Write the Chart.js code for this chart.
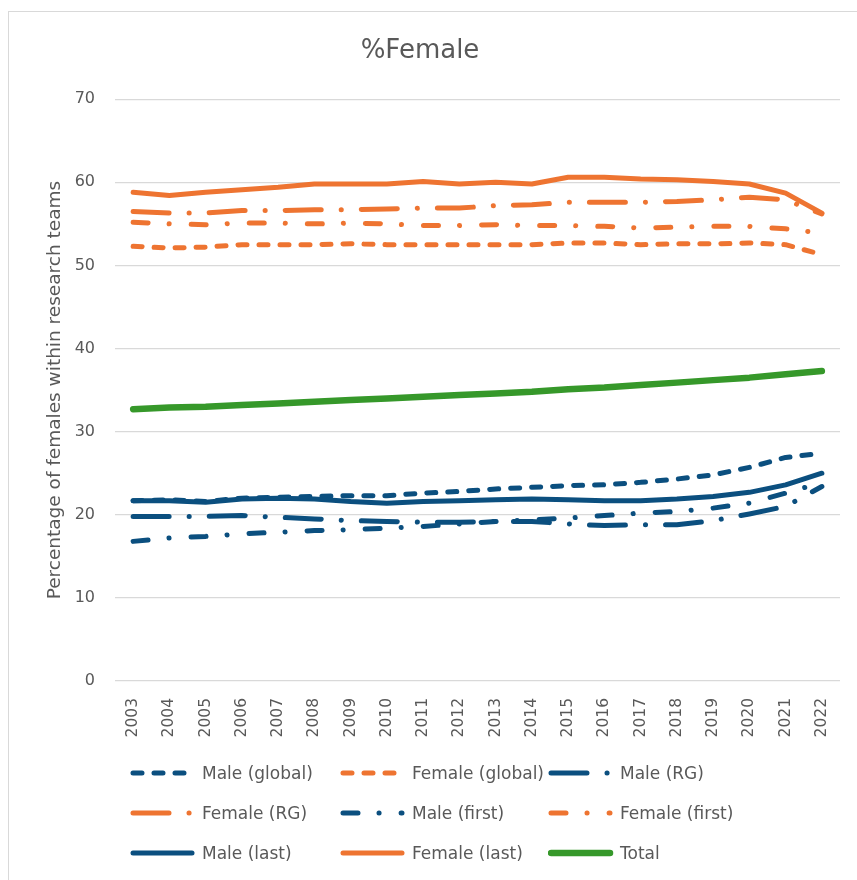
<!DOCTYPE html>
<html>
<head>
<meta charset="utf-8">
<script src="https://cdn.jsdelivr.net/npm/chart.js@4.4.1/dist/chart.umd.min.js"></script>
<style>
    body { margin: 0; background: #ffffff; overflow: hidden; }
    #caixa { position: relative; width: 857px; height: 880px; overflow: hidden; }
    #borda { position: absolute; left: 8px; top: 11px; width: 900px; height: 900px; border: 1px solid #d9d9d9; box-sizing: border-box; }
    #myChart { position: absolute; left: 0; top: 0; }
    .itemLegenda { position: absolute; height: 24px; display: flex; align-items: center; font-family: "DejaVu Sans", sans-serif; font-size: 17px; color: #595959; white-space: nowrap; }
    .itemLegenda canvas { margin-right: 6px; }
</style>
</head>
<body>
<div id="caixa">
    <div id="borda"></div>
    <canvas id="myChart" width="857" height="880"></canvas>
    <div id="legenda"></div>
</div>
<script>
// Dados
var anos = ['2003', '2004', '2005', '2006', '2007', '2008', '2009', '2010', '2011', '2012',
    '2013', '2014', '2015', '2016', '2017', '2018', '2019', '2020', '2021', '2022'];

var maleGlobal = [21.7, 21.8, 21.6, 22.0, 22.1, 22.2, 22.3, 22.3, 22.6, 22.8, 23.1, 23.3, 23.5, 23.6, 23.9, 24.3, 24.8, 25.7, 26.9, 27.4];
var femaleGlobal = [52.3, 52.1, 52.2, 52.5, 52.5, 52.5, 52.6, 52.5, 52.5, 52.5, 52.5, 52.5, 52.7, 52.7, 52.5, 52.6, 52.6, 52.7, 52.5, 51.3];
var maleRG = [19.8, 19.8, 19.8, 19.9, 19.7, 19.5, 19.3, 19.2, 19.1, 19.1, 19.2, 19.2, 18.9, 18.7, 18.8, 18.8, 19.3, 20.1, 21.0, 23.4];
var femaleRG = [56.5, 56.3, 56.3, 56.6, 56.6, 56.7, 56.7, 56.8, 56.9, 56.9, 57.2, 57.3, 57.6, 57.6, 57.6, 57.7, 57.9, 58.2, 57.9, 56.2];
var maleFirst = [16.8, 17.2, 17.4, 17.7, 17.9, 18.1, 18.2, 18.4, 18.6, 18.9, 19.2, 19.4, 19.6, 19.9, 20.2, 20.4, 20.8, 21.4, 22.6, 23.9];
var femaleFirst = [55.2, 55.0, 54.9, 55.1, 55.1, 55.0, 55.1, 55.0, 54.8, 54.8, 54.9, 54.8, 54.8, 54.7, 54.5, 54.6, 54.7, 54.7, 54.4, 53.9];
var maleLast = [21.7, 21.7, 21.5, 21.9, 22.0, 21.9, 21.6, 21.4, 21.6, 21.7, 21.8, 21.9, 21.8, 21.7, 21.7, 21.9, 22.2, 22.7, 23.6, 25.0];
var femaleLast = [58.8, 58.4, 58.8, 59.1, 59.4, 59.8, 59.8, 59.8, 60.1, 59.8, 60.0, 59.8, 60.6, 60.6, 60.4, 60.3, 60.1, 59.8, 58.7, 56.3];
var total = [32.7, 32.9, 33.0, 33.2, 33.4, 33.6, 33.8, 34.0, 34.2, 34.4, 34.6, 34.8, 35.1, 35.3, 35.6, 35.9, 36.2, 36.5, 36.9, 37.3];

var yTicks = [0, 10, 20, 30, 40, 50, 60, 70];

// Cores e tracejados
var azul = '#0b4f7f';
var laranja = '#ee7431';
var verde = '#36982a';
var tracoCurto = [9, 12];
var tracoLongoPonto = [36, 20, 0.1, 20];
var tracoPonto = [15, 21, 0.1, 22];

function serie(nome, dados, cor, traco, largura, ordem) {
    return {
        label: nome,
        data: dados,
        borderColor: cor,
        backgroundColor: cor,
        borderWidth: largura,
        borderDash: traco,
        borderCapStyle: 'round',
        borderJoinStyle: 'round',
        pointRadius: 0,
        tension: 0,
        fill: false,
        order: ordem
    };
}

var texto = '#595959';

const ctx = document.getElementById('myChart');

var grafico = new Chart(ctx, {
    type: 'line',
    data: {
        labels: anos,
        datasets: [
            serie('Male (global)', maleGlobal, azul, tracoCurto, 5, 8),
            serie('Female (global)', femaleGlobal, laranja, tracoCurto, 5, 7),
            serie('Male (RG)', maleRG, azul, tracoLongoPonto, 5, 6),
            serie('Female (RG)', femaleRG, laranja, tracoLongoPonto, 5, 5),
            serie('Male (first)', maleFirst, azul, tracoPonto, 5, 4),
            serie('Female (first)', femaleFirst, laranja, tracoPonto, 5, 3),
            serie('Male (last)', maleLast, azul, [], 5, 2),
            serie('Female (last)', femaleLast, laranja, [], 5, 1),
            serie('Total', total, verde, [], 6.5, 0)
        ]
    },
    options: {
        responsive: false,
        animation: false,
        layout: {
            padding: { left: 0, right: 17, top: 0, bottom: 0 }
        },
        plugins: {
            legend: { display: false },
            tooltip: { enabled: false },
            title: {
                display: true,
                text: '%Female',
                color: texto,
                font: { family: 'DejaVu Sans', size: 26, weight: 'normal' },
                padding: { top: 36, bottom: 32 }
            }
        },
        scales: {
            x: {
                offset: true,
                grid: { display: false },
                border: { display: false },
                ticks: {
                    color: texto,
                    font: { family: 'DejaVu Sans', size: 15.5 },
                    minRotation: 90,
                    maxRotation: 90,
                    padding: 9,
                    autoSkip: false
                },
                afterFit: function (escala) {
                    escala.height = 199;
                }
            },
            y: {
                min: 0,
                max: 70,
                afterBuildTicks: function (escala) {
                    escala.ticks = yTicks.map(function (v) { return { value: v }; });
                },
                grid: { color: '#d9d9d9', lineWidth: 1.3, drawTicks: false },
                border: { display: false },
                ticks: {
                    color: texto,
                    font: { family: 'DejaVu Sans', size: 16 },
                    padding: 20
                },
                title: {
                    display: true,
                    text: 'Percentage of females within research teams',
                    color: texto,
                    font: { family: 'DejaVu Sans', size: 18.5, weight: 'normal' },
                    padding: { top: 44, bottom: 0 }
                },
                afterFit: function (escala) {
                    escala.width = 115;
                }
            }
        }
    }
});

// Legenda em HTML, em grade de 3 colunas como no Excel
var colunas = [130, 340, 548];
var linhas = [773, 813, 853];
var legenda = document.getElementById('legenda');

grafico.data.datasets.forEach(function (ds, i) {
    var item = document.createElement('div');
    item.className = 'itemLegenda';
    item.style.left = colunas[i % 3] + 'px';
    item.style.top = (linhas[Math.floor(i / 3)] - 12) + 'px';

    var amostra = document.createElement('canvas');
    amostra.width = 66;
    amostra.height = 12;
    var c = amostra.getContext('2d');
    c.strokeStyle = ds.borderColor;
    c.lineWidth = ds.borderWidth;
    c.lineCap = 'round';
    c.setLineDash(ds.borderDash);
    c.beginPath();
    c.moveTo(3, 6);
    c.lineTo(62, 6);
    c.stroke();

    var rotulo = document.createElement('span');
    rotulo.textContent = ds.label;

    item.appendChild(amostra);
    item.appendChild(rotulo);
    legenda.appendChild(item);
});
</script>
</body>
</html>
